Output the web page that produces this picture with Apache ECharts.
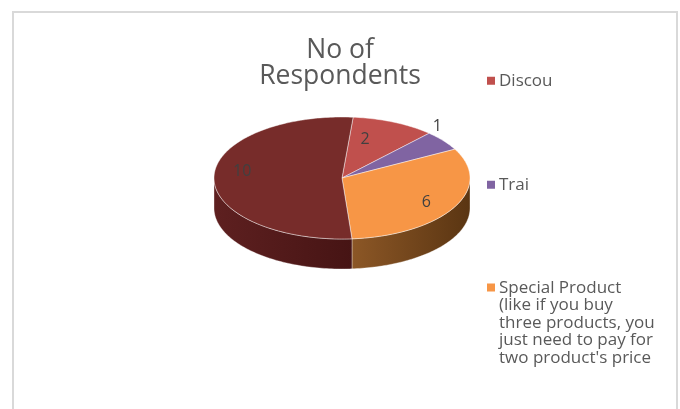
<!DOCTYPE html>
<html>
<head>
<meta charset="utf-8">
<script src="https://cdn.jsdelivr.net/npm/echarts@6/dist/echarts.min.js"></script>
<style>html,body{margin:0;padding:0;background:#fff}#c{width:680px;height:409px}</style>
</head>
<body>
<div id="c"></div>
<script>
// ---- data ----
const categories = ['Discou', 'Trai', "Special Product (like if you buy three products, you just need to pay for two product's price", 'Other'];
const values = [2, 1, 6, 10];
const legendLabels = ['Discou', 'Trai', "Special Product\n(like if you buy\nthree products, you\njust need to pay for\ntwo product's price"];
const titleText = 'No of\nRespondents';

// ---- style ----
const topColors = ['#C0504D', '#8064A2', '#F79646', '#772C2A'];
const sideColors = [
  ['#7a3331', '#5a2422'],
  ['#53416a', '#3c2f4d'],
  ['#8c5726', '#5a3512'],
  ['#5e2020', '#461414']
];
const labelFactor = [0.5, 1.05, 0.75, 0.78];
const labelShift = [[-3, -11], [-11, -12], [0, 2], [0, -6]];
const CX = 342, CY = 178, RX = 128, RY = 61, DEPTH = 30;
const START = -85 * Math.PI / 180;
const FONT = 'Open Sans';

function pt(a, dy) { return [CX + RX * Math.cos(a), CY + RY * Math.sin(a) + (dy || 0)]; }
function arc(a0, a1, dy) {
  const n = Math.max(2, Math.ceil(Math.abs(a1 - a0) / 0.02));
  const out = [];
  for (let k = 0; k <= n; k++) out.push(pt(a0 + (a1 - a0) * k / n, dy));
  return out;
}

function makeRender(i) {
  return function (params, api) {
    const total = values.reduce((s, v) => s + v, 0);
    let acc = 0;
    for (let j = 0; j < i; j++) acc += values[j];
    const a0 = START + acc / total * Math.PI * 2;
    const a1 = a0 + api.value(0) / total * Math.PI * 2;
    const children = [];
    for (let k = -1; k <= 1; k++) {
      const lo = Math.max(a0, 2 * Math.PI * k), hi = Math.min(a1, 2 * Math.PI * k + Math.PI);
      if (lo < hi) {
        const topArc = arc(lo, hi, 0);
        const botArc = arc(hi, lo, DEPTH);
        children.push({
          type: 'polygon',
          shape: { points: topArc.concat(botArc) },
          style: {
            fill: new echarts.graphic.LinearGradient(0, 0, 1, 0, [
              { offset: 0, color: sideColors[i][0] },
              { offset: 1, color: sideColors[i][1] }
            ]),
            stroke: 'rgba(255,255,255,0.35)', lineWidth: 1
          }
        });
      }
    }
    const topPts = [[CX, CY]].concat(arc(a0, a1, 0));
    children.push({
      type: 'polygon',
      shape: { points: topPts },
      style: { fill: topColors[i], stroke: 'rgba(255,255,255,0.45)', lineWidth: 1 }
    });
    const mid = (a0 + a1) / 2;
    const f = labelFactor[i];
    children.push({
      type: 'text',
      x: CX + RX * f * Math.cos(mid) + labelShift[i][0],
      y: CY + RY * f * Math.sin(mid) + labelShift[i][1],
      style: {
        text: String(api.value(0)),
        fill: '#404040', font: '16px "' + FONT + '"',
        align: 'center', verticalAlign: 'middle'
      }
    });
    return { type: 'group', children: children };
  };
}

const series = categories.map((name, i) => ({
  type: 'custom',
  name: name,
  coordinateSystem: 'none',
  itemStyle: { color: topColors[i] },
  renderItem: makeRender(i),
  data: [values[i]],
  animation: false
}));

const legendTop = [72, 176, 279];
const tallIcon = 'path://M0,0H0.01V0.01H0Z M0,4.5H8V12.5H0Z M0,87.5H0.01V87.51H0Z';
const legends = [0, 1, 2].map(i => ({
  data: [categories[i]],
  left: 487,
  top: legendTop[i],
  orient: 'vertical',
  padding: 0,
  selectedMode: false,
  itemWidth: 8,
  itemHeight: i === 2 ? 87.5 : 8,
  icon: i === 2 ? tallIcon : 'rect',
  itemGap: 0,
  formatter: () => legendLabels[i],
  textStyle: { fontFamily: FONT, fontSize: 17, color: '#595959', lineHeight: 17.5, padding: [0, 0, 0, -1] }
}));

const chart = echarts.init(document.getElementById('c'), null, { renderer: 'canvas' });
chart.setOption({
  backgroundColor: '#ffffff',
  animation: false,
  title: {
    text: titleText,
    left: 335, top: 32, textAlign: 'center',
    textStyle: { fontFamily: FONT, fontSize: 26.5, fontWeight: 'normal', color: '#595959', lineHeight: 26 }
  },
  legend: legends,
  graphic: [{
    type: 'polyline',
    shape: { points: [[13, 420], [13, 12], [677, 12], [677, 420]] },
    style: { stroke: '#D9D9D9', lineWidth: 2, fill: null },
    silent: true
  }],
  series: series
});
</script>
</body>
</html>
